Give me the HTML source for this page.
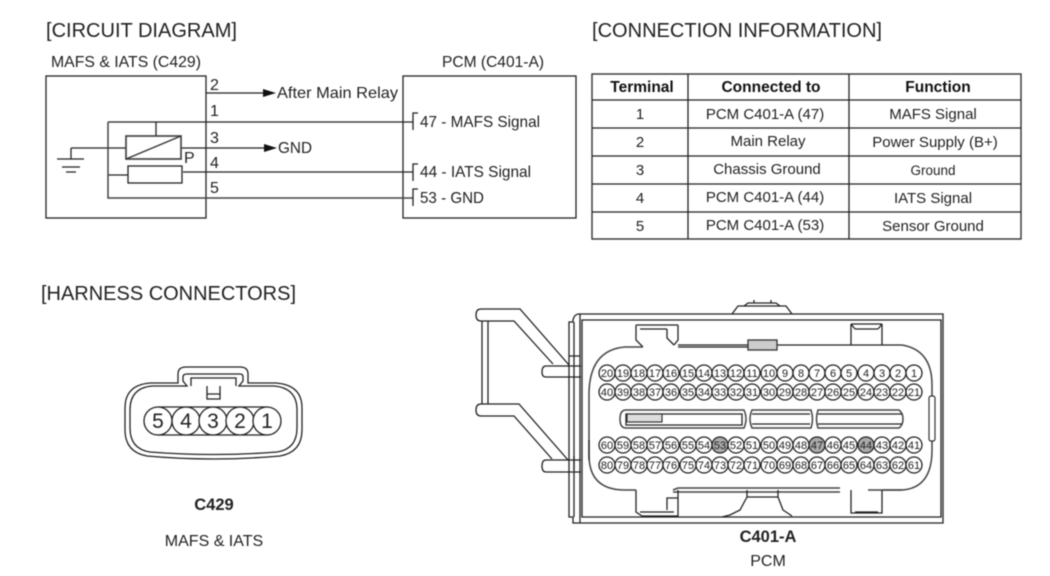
<!DOCTYPE html>
<html><head><meta charset="utf-8"><style>
html,body{margin:0;padding:0;background:#fff;width:1050px;height:576px;overflow:hidden}
svg{display:block;filter:blur(.4px)}
text{font-family:"Liberation Sans",sans-serif;fill:#222}
.t{font-size:16px}
.h{font-size:15.5px;font-weight:bold;text-anchor:middle;fill:#111}
.c{font-size:15px;text-anchor:middle}
.p circle{fill:#fff;stroke:#222;stroke-width:1.3}
.p text{font-size:11px;text-anchor:middle;fill:#222}
.l{fill:none;stroke:#222;stroke-width:1.3}
.g{fill:none;stroke:#444;stroke-width:1.5}
</style></head><body>
<svg width="1050" height="576" viewBox="0 0 1050 576" xmlns="http://www.w3.org/2000/svg">
<rect width="1050" height="576" fill="#fff"/>
<text x="46" y="37" font-size="20" textLength="191" lengthAdjust="spacingAndGlyphs">[CIRCUIT DIAGRAM]</text>
<text x="592" y="37" font-size="20" textLength="290" lengthAdjust="spacingAndGlyphs">[CONNECTION INFORMATION]</text>
<text x="41" y="300" font-size="20" textLength="255" lengthAdjust="spacingAndGlyphs">[HARNESS CONNECTORS]</text>

<!-- circuit -->
<text x="51" y="67" class="t" textLength="150" lengthAdjust="spacingAndGlyphs">MAFS &amp; IATS (C429)</text>
<text x="442" y="67" class="t" textLength="102" lengthAdjust="spacingAndGlyphs">PCM (C401-A)</text>
<rect x="46" y="76" width="160" height="142" class="l" stroke-width="1.5"/>
<rect x="403" y="76" width="173" height="142" class="l"/>
<path class="l" d="M206 93H264M108 122H413M71 148H126M181 148H265M183 172H413M108 175H128M156 122V136M71 148V159M57 159H84M62 167H80M66 172H76"/>
<path class="g" stroke-width="1.6" d="M108 122V198H413"/>
<path d="M263 89L276 93L263 97ZM264 144L277 148L264 152Z" fill="#111"/>
<rect x="126" y="136" width="55" height="23" fill="none" stroke="#444" stroke-width="1.7"/>
<path d="M126 159L181 136" stroke="#333" stroke-width="1.4" fill="none"/>
<rect x="128" y="166" width="54" height="17" class="l"/>
<path class="l" d="M418 113H413V130M418 164H413V181M418 189H413V206"/>
<text x="210" y="90" class="t">2</text>
<text x="210" y="116" class="t">1</text>
<text x="210" y="143" class="t">3</text>
<text x="210" y="168" class="t">4</text>
<text x="210" y="193" class="t">5</text>
<text x="184" y="163" class="t">P</text>
<text x="277" y="98" class="t" textLength="121" lengthAdjust="spacingAndGlyphs">After Main Relay</text>
<text x="278" y="153" class="t" textLength="34" lengthAdjust="spacingAndGlyphs">GND</text>
<text x="420" y="127" class="t" textLength="120" lengthAdjust="spacingAndGlyphs">47 - MAFS Signal</text>
<text x="420" y="177" class="t" textLength="111" lengthAdjust="spacingAndGlyphs">44 - IATS Signal</text>
<text x="420" y="203" class="t" textLength="64" lengthAdjust="spacingAndGlyphs">53 - GND</text>

<!-- table -->
<rect x="592" y="74" width="429" height="165" fill="none" stroke="#333" stroke-width="1.4"/>
<path class="l" d="M688 74V239M849 74V239M592 100H1021M592 128H1021M592 156H1021M592 184H1021M592 212H1021"/>
<text x="642" y="92" class="h">Terminal</text><text x="771" y="92" class="h">Connected to</text><text x="938" y="92" class="h">Function</text>
<text x="640" y="119" class="c">1</text><text x="765" y="119" class="c">PCM C401-A (47)</text><text x="933" y="119" class="c">MAFS Signal</text>
<text x="640" y="147" class="c">2</text><text x="768" y="146" class="c">Main Relay</text><text x="935" y="147" class="c">Power Supply (B+)</text>
<text x="640" y="175" class="c">3</text><text x="767" y="174" class="c">Chassis Ground</text><text x="933" y="175" class="c" style="font-size:13.5px">Ground</text>
<text x="640" y="203" class="c">4</text><text x="765" y="202" class="c">PCM C401-A (44)</text><text x="933" y="203" class="c">IATS Signal</text>
<text x="640" y="231" class="c">5</text><text x="765" y="230" class="c">PCM C401-A (53)</text><text x="933" y="231" class="c">Sensor Ground</text>

<!-- C429 -->
<path class="l" d="M178 383V374Q178 367 186 367H240Q248 367 248 374V383H276Q302 385 302 408V430Q302 452 280 456Q213 462 147 456Q125 452 125 430V408Q125 385 150 383Z"/>
<path class="l" d="M187 386L183 381V377Q183 374 187 374H240Q243 374 243 377V381L239 386H274Q297 388 297 410V428Q297 449 277 452Q213 457 150 452Q130 449 130 428V410Q130 388 152 386Z"/>
<path class="l" d="M191 386V378H236V386M207 386V399H220V386M207 394H220"/>
<path class="l" d="M158 407H267M158 435H267"/>
<g class="p">
<circle cx="158" cy="421" r="14"/><circle cx="186" cy="421" r="14"/><circle cx="213" cy="421" r="14"/><circle cx="240" cy="421" r="14"/><circle cx="267" cy="421" r="14"/>
<text x="158" y="428" style="font-size:21px">5</text><text x="186" y="428" style="font-size:21px">4</text><text x="213" y="428" style="font-size:21px">3</text><text x="240" y="428" style="font-size:21px">2</text><text x="267" y="428" style="font-size:21px">1</text>
</g>
<text x="214" y="510" font-size="16.5" font-weight="bold" text-anchor="middle">C429</text>
<text x="214" y="546" font-size="16" text-anchor="middle">MAFS &amp; IATS</text>

<!-- C401-A body -->
<path class="l" d="M573 322V320Q574 315 578 314H943V523H573V517H569V322Z"/>
<path class="l" d="M582 320H941V517H582ZM574 322V517M580 314V523"/>
<!-- bracket -->
<path class="l" d="M569 365L520 309H481Q476 309 476 315Q476 321 481 321H514L553 364M482 321V404M488 321V404"/>
<path class="l" d="M481 404H519L568 460M481 416H514L552 459M481 404Q476 404 476 410Q476 416 481 416"/>
<path class="l" d="M581 366H546Q542 366 542 372Q542 377 546 377H581M581 460H546Q542 460 542 466Q542 472 546 472H581M569 356H580M574 456V470"/>
<!-- keys top -->
<path class="l" d="M732 314L738 306H786L792 314M744 306L748 303H776L780 306M754 303V300M771 303V300"/>
<path class="l" d="M636 325V340L643 347M678 325V340L674 345M636 325H678M640 329H667M667 329V338L674 345M678 345H748M678 347H748M777 345H902"/>
<path class="l" d="M851 324V345M882 324V345M851 324H882M855 329H878M855 329L851 324M878 329L882 324"/>
<rect x="748" y="340" width="29" height="10" fill="#ccc" stroke="#333" stroke-width="1.3"/>
<!-- shroud -->
<path class="g" d="M643 347H625Q589 350 589 395V455Q589 490 625 490H636M883 490H902Q932 488 932 450V385Q932 350 902 345"/>
<path class="g" d="M673 490L678 488H840M868 490H902M673 492H840"/>
<path class="l" d="M636 490V512L642 516H678V490M640 512H674M667 510V498H678"/>
<path class="l" d="M851 490V513H882V490M855 512H878"/>
<path class="l" d="M747 490V497L740 510L730 515L722 517M778 490V497L783 510L792 516M747 497H778"/>
<rect x="929" y="396" width="6" height="45" rx="2" fill="#fff" stroke="#333" stroke-width="1.2"/>
<path class="l" d="M589 440V460"/>
<!-- slots -->
<path class="g" d="M626 410H744Q748 419 744 428H626Q620 428 620 419Q620 410 626 410Z"/>
<path class="l" d="M626 414H742V425H626Z"/>
<rect x="627" y="414" width="35" height="8" fill="#ddd" stroke="#333" stroke-width="1.2"/>
<path class="g" d="M752 410H811Q814 419 811 428H752Q748 419 752 410ZM818 410H899Q903 413 903 419Q903 425 899 428H818Q815 419 818 410Z"/>
<path class="l" d="M752 414H810M752 424H810M818 414H902M818 424H902"/>

<g class="p">
<circle cx="607" cy="373" r="8"/><text x="607" y="377">20</text>
<circle cx="623" cy="373" r="8"/><text x="623" y="377">19</text>
<circle cx="639" cy="373" r="8"/><text x="639" y="377">18</text>
<circle cx="655" cy="373" r="8"/><text x="655" y="377">17</text>
<circle cx="671" cy="373" r="8"/><text x="671" y="377">16</text>
<circle cx="688" cy="373" r="8"/><text x="688" y="377">15</text>
<circle cx="704" cy="373" r="8"/><text x="704" y="377">14</text>
<circle cx="720" cy="373" r="8"/><text x="720" y="377">13</text>
<circle cx="736" cy="373" r="8"/><text x="736" y="377">12</text>
<circle cx="752" cy="373" r="8"/><text x="752" y="377">11</text>
<circle cx="769" cy="373" r="8"/><text x="769" y="377">10</text>
<circle cx="785" cy="373" r="8"/><text x="785" y="377">9</text>
<circle cx="801" cy="373" r="8"/><text x="801" y="377">8</text>
<circle cx="817" cy="373" r="8"/><text x="817" y="377">7</text>
<circle cx="833" cy="373" r="8"/><text x="833" y="377">6</text>
<circle cx="849" cy="373" r="8"/><text x="849" y="377">5</text>
<circle cx="866" cy="373" r="8"/><text x="866" y="377">4</text>
<circle cx="882" cy="373" r="8"/><text x="882" y="377">3</text>
<circle cx="898" cy="373" r="8"/><text x="898" y="377">2</text>
<circle cx="914" cy="373" r="8"/><text x="914" y="377">1</text>

<circle cx="607" cy="392" r="8"/><text x="607" y="396">40</text>
<circle cx="623" cy="392" r="8"/><text x="623" y="396">39</text>
<circle cx="639" cy="392" r="8"/><text x="639" y="396">38</text>
<circle cx="655" cy="392" r="8"/><text x="655" y="396">37</text>
<circle cx="671" cy="392" r="8"/><text x="671" y="396">36</text>
<circle cx="688" cy="392" r="8"/><text x="688" y="396">35</text>
<circle cx="704" cy="392" r="8"/><text x="704" y="396">34</text>
<circle cx="720" cy="392" r="8"/><text x="720" y="396">33</text>
<circle cx="736" cy="392" r="8"/><text x="736" y="396">32</text>
<circle cx="752" cy="392" r="8"/><text x="752" y="396">31</text>
<circle cx="769" cy="392" r="8"/><text x="769" y="396">30</text>
<circle cx="785" cy="392" r="8"/><text x="785" y="396">29</text>
<circle cx="801" cy="392" r="8"/><text x="801" y="396">28</text>
<circle cx="817" cy="392" r="8"/><text x="817" y="396">27</text>
<circle cx="833" cy="392" r="8"/><text x="833" y="396">26</text>
<circle cx="849" cy="392" r="8"/><text x="849" y="396">25</text>
<circle cx="866" cy="392" r="8"/><text x="866" y="396">24</text>
<circle cx="882" cy="392" r="8"/><text x="882" y="396">23</text>
<circle cx="898" cy="392" r="8"/><text x="898" y="396">22</text>
<circle cx="914" cy="392" r="8"/><text x="914" y="396">21</text>

<circle cx="607" cy="445" r="8"/><text x="607" y="449">60</text>
<circle cx="623" cy="445" r="8"/><text x="623" y="449">59</text>
<circle cx="639" cy="445" r="8"/><text x="639" y="449">58</text>
<circle cx="655" cy="445" r="8"/><text x="655" y="449">57</text>
<circle cx="671" cy="445" r="8"/><text x="671" y="449">56</text>
<circle cx="688" cy="445" r="8"/><text x="688" y="449">55</text>
<circle cx="704" cy="445" r="8"/><text x="704" y="449">54</text>
<circle cx="720" cy="445" r="8" style="fill:#aaa"/><text x="720" y="449">53</text>
<circle cx="736" cy="445" r="8"/><text x="736" y="449">52</text>
<circle cx="752" cy="445" r="8"/><text x="752" y="449">51</text>
<circle cx="769" cy="445" r="8"/><text x="769" y="449">50</text>
<circle cx="785" cy="445" r="8"/><text x="785" y="449">49</text>
<circle cx="801" cy="445" r="8"/><text x="801" y="449">48</text>
<circle cx="817" cy="445" r="8" style="fill:#aaa"/><text x="817" y="449">47</text>
<circle cx="833" cy="445" r="8"/><text x="833" y="449">46</text>
<circle cx="849" cy="445" r="8"/><text x="849" y="449">45</text>
<circle cx="866" cy="445" r="8" style="fill:#aaa"/><text x="866" y="449">44</text>
<circle cx="882" cy="445" r="8"/><text x="882" y="449">43</text>
<circle cx="898" cy="445" r="8"/><text x="898" y="449">42</text>
<circle cx="914" cy="445" r="8"/><text x="914" y="449">41</text>

<circle cx="607" cy="465" r="8"/><text x="607" y="469">80</text>
<circle cx="623" cy="465" r="8"/><text x="623" y="469">79</text>
<circle cx="639" cy="465" r="8"/><text x="639" y="469">78</text>
<circle cx="655" cy="465" r="8"/><text x="655" y="469">77</text>
<circle cx="671" cy="465" r="8"/><text x="671" y="469">76</text>
<circle cx="688" cy="465" r="8"/><text x="688" y="469">75</text>
<circle cx="704" cy="465" r="8"/><text x="704" y="469">74</text>
<circle cx="720" cy="465" r="8"/><text x="720" y="469">73</text>
<circle cx="736" cy="465" r="8"/><text x="736" y="469">72</text>
<circle cx="752" cy="465" r="8"/><text x="752" y="469">71</text>
<circle cx="769" cy="465" r="8"/><text x="769" y="469">70</text>
<circle cx="785" cy="465" r="8"/><text x="785" y="469">69</text>
<circle cx="801" cy="465" r="8"/><text x="801" y="469">68</text>
<circle cx="817" cy="465" r="8"/><text x="817" y="469">67</text>
<circle cx="833" cy="465" r="8"/><text x="833" y="469">66</text>
<circle cx="849" cy="465" r="8"/><text x="849" y="469">65</text>
<circle cx="866" cy="465" r="8"/><text x="866" y="469">64</text>
<circle cx="882" cy="465" r="8"/><text x="882" y="469">63</text>
<circle cx="898" cy="465" r="8"/><text x="898" y="469">62</text>
<circle cx="914" cy="465" r="8"/><text x="914" y="469">61</text>
</g>
<text x="768" y="542" font-size="16.5" font-weight="bold" text-anchor="middle">C401-A</text>
<text x="768" y="566" font-size="16" text-anchor="middle">PCM</text>
</svg>
</body></html>
